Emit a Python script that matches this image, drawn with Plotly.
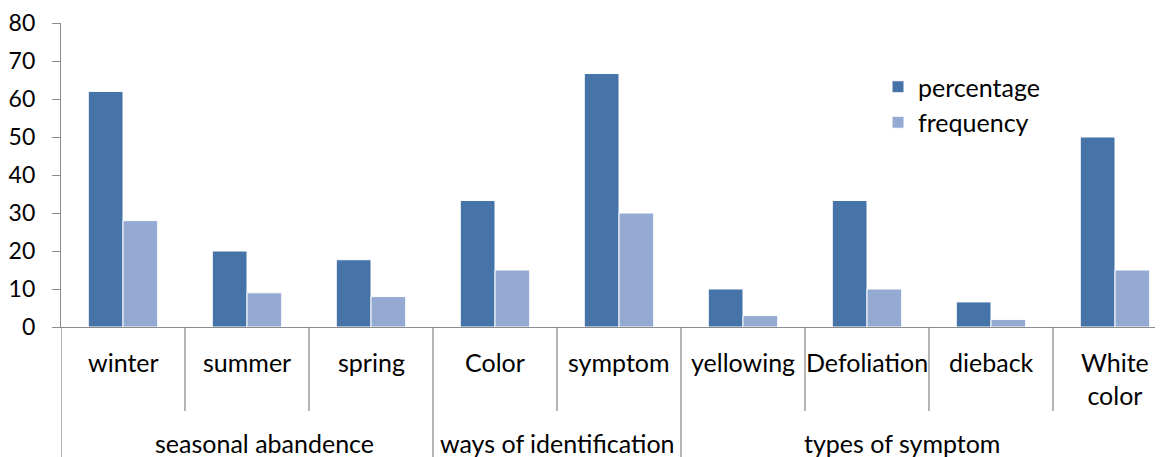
import plotly.graph_objects as go

categories = ["winter", "summer", "spring", "Color", "symptom",
              "yellowing", "Defoliation", "dieback", "White<br>color"]
groups = ["seasonal abandence", "ways of identification", "types of symptom"]
group_sizes = [3, 2, 4]
percentage = [62, 20, 17.7, 33.3, 66.7, 10, 33.3, 6.6, 50]
frequency = [28, 9, 8, 15, 30, 3, 10, 2, 15]

FONT = "Lato"
FS = 25
TFS = 23
AX = "#8c8c8c"
OFF = 8  # page body margin
W, H = 1163 - OFF, 457 - OFF
L, T = 61 - OFF, 23 - OFF
ZERO = 327 - OFF          # y pixel of the zero line (figure coords)
PH = ZERO - T
B = H - ZERO
CAT_W = 124
xs = list(range(len(categories)))

fig = go.Figure()
fig.add_bar(x=xs, y=percentage, name="percentage", marker_color="#4673A8",
            marker_line=dict(color="white", width=1), legendgroup="a")
fig.add_bar(x=xs, y=frequency, name="frequency", marker_color="#95AAD2",
            marker_line=dict(color="white", width=1), legendgroup="b")

def py(p):
    """screen pixel row -> paper y"""
    return (ZERO - (p - OFF)) / PH

shapes = []
b = 0
bounds = [0]
for s in group_sizes:
    b += s
    bounds.append(b)
for i in range(len(categories) + 1):
    full = i in bounds
    shapes.append(dict(type="line", xref="x", yref="paper",
                       x0=i - 0.5, x1=i - 0.5, y0=0,
                       y1=py(480) if full else py(411),
                       line=dict(color=AX, width=1.3)))

ann = []
for i, c in enumerate(categories):
    yy = py(378.5) if "<br>" in c else py(362)
    ann.append(dict(x=i, y=yy, xref="x", yref="paper", text=c,
                    xanchor="center", yanchor="middle",
                    showarrow=False, font=dict(family=FONT, size=FS, color="black")))
# label shift (in category units) to match the reference placement
group_shift = [0.145, 0.0, -0.22]
start = 0
for g, s, sh in zip(groups, group_sizes, group_shift):
    ann.append(dict(x=start + (s - 1) / 2 + sh, y=py(443), xref="x", yref="paper",
                    text=g, showarrow=False, xanchor="center", yanchor="middle",
                    font=dict(family=FONT, size=FS, color="black")))
    start += s

fig.update_layout(
    width=W, height=H,
    margin=dict(l=L, r=0, t=T, b=B, pad=0),
    paper_bgcolor="white", plot_bgcolor="white",
    barmode="group", bargap=0.44, bargroupgap=0.0,
    font=dict(family=FONT, size=FS, color="black"),
    shapes=shapes, annotations=ann,
    legend=dict(x=(878 - 61) / (1163 - 61), y=py(64), xanchor="left", yanchor="top",
                tracegroupgap=0, bgcolor="rgba(0,0,0,0)",
                font=dict(family=FONT, size=FS, color="black")),
)
fig.update_xaxes(range=[-0.5, -0.5 + (W - L) / CAT_W], showgrid=False,
                 zeroline=False, showticklabels=False, ticks="",
                 showline=True, linecolor=AX, linewidth=1.3)
fig.update_yaxes(range=[0, 80], dtick=10, showgrid=False, zeroline=False,
                 showline=True, linecolor=AX, linewidth=1.3,
                 ticks="outside", ticklen=8, tickcolor=AX, tickwidth=1.3,
                 ticklabelstandoff=12,
                 tickfont=dict(family=FONT, size=TFS, color="black"))

fig.write_html("out.html")
